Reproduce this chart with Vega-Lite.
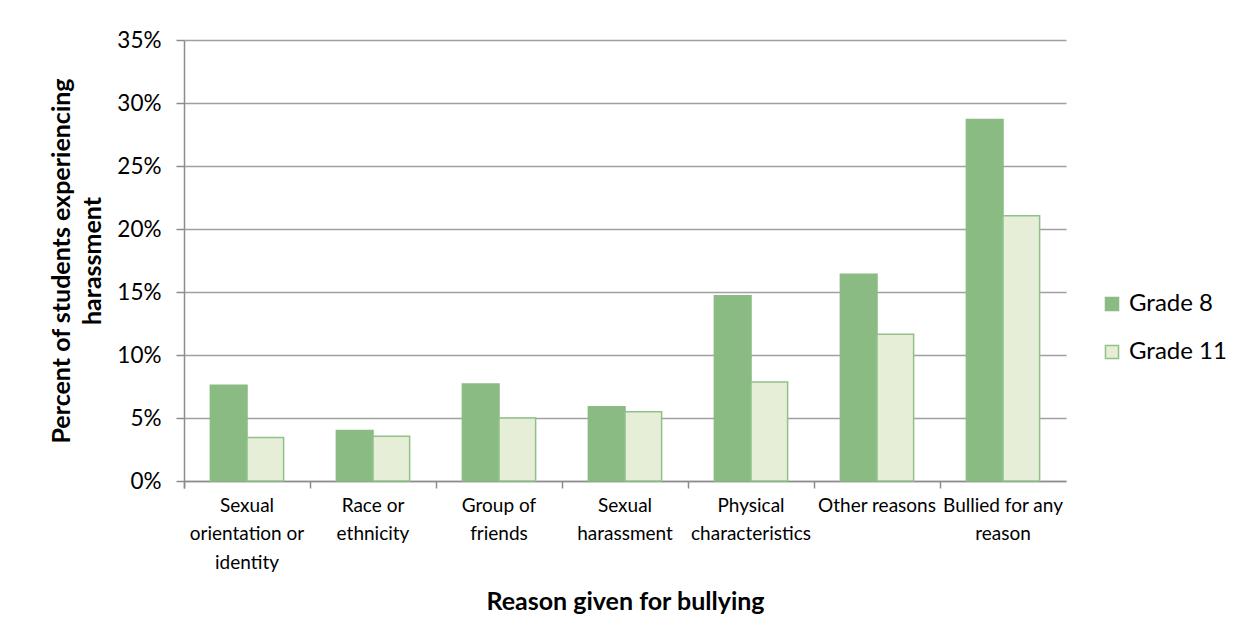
{
  "$schema": "https://vega.github.io/schema/vega-lite/v6.json",
  "width": 882,
  "height": 441,
  "autosize": {"type": "none"},
  "padding": {"left": 184, "top": 40, "right": 186, "bottom": 158},
  "background": "white",
  "config": {
    "font": "Lato",
    "view": {"stroke": null}
  },
  "data": {
    "values": [
      {"reason": "Sexual orientation or identity", "grade": "Grade 8", "pct": 7.6},
      {"reason": "Sexual orientation or identity", "grade": "Grade 11", "pct": 3.45},
      {"reason": "Race or ethnicity", "grade": "Grade 8", "pct": 4.0},
      {"reason": "Race or ethnicity", "grade": "Grade 11", "pct": 3.55},
      {"reason": "Group of friends", "grade": "Grade 8", "pct": 7.7},
      {"reason": "Group of friends", "grade": "Grade 11", "pct": 5.0},
      {"reason": "Sexual harassment", "grade": "Grade 8", "pct": 5.9},
      {"reason": "Sexual harassment", "grade": "Grade 11", "pct": 5.5},
      {"reason": "Physical characteristics", "grade": "Grade 8", "pct": 14.7},
      {"reason": "Physical characteristics", "grade": "Grade 11", "pct": 7.85},
      {"reason": "Other reasons", "grade": "Grade 8", "pct": 16.4},
      {"reason": "Other reasons", "grade": "Grade 11", "pct": 11.65},
      {"reason": "Bullied for any reason", "grade": "Grade 8", "pct": 28.7},
      {"reason": "Bullied for any reason", "grade": "Grade 11", "pct": 21.05}
    ]
  },
  "mark": {"type": "bar", "strokeWidth": 1.5},
  "encoding": {
    "x": {
      "field": "reason",
      "type": "nominal",
      "sort": null,
      "scale": {"paddingInner": 0, "paddingOuter": 0},
      "axis": {
        "title": "Reason given for bullying",
        "titleFont": "Lato",
        "titleFontSize": 25,
        "titleFontWeight": "bold",
        "titleColor": "black",
        "titlePadding": 17,
        "labelAngle": 0,
        "labelFontSize": 19,
        "labelColor": "black",
        "labelLineHeight": 28.5,
        "labelPadding": 8,
        "labelBaseline": "top",
        "labelExpr": "{'Sexual orientation or identity':['Sexual','orientation or','identity'],'Race or ethnicity':['Race or','ethnicity'],'Group of friends':['Group of','friends'],'Sexual harassment':['Sexual','harassment'],'Physical characteristics':['Physical','characteristics'],'Other reasons':['Other reasons'],'Bullied for any reason':['Bullied for any','reason']}[datum.label]",
        "bandPosition": 0,
        "tickExtra": true,
        "tickSize": 7,
        "tickColor": "#8c8c8c",
        "tickWidth": 1.5,
        "domainColor": "#8c8c8c",
        "domainWidth": 1.5,
        "labelLimit": 0
      }
    },
    "xOffset": {
      "field": "grade",
      "type": "nominal",
      "sort": ["Grade 8", "Grade 11"],
      "scale": {"paddingInner": 0, "paddingOuter": 0.72}
    },
    "y": {
      "field": "pct",
      "type": "quantitative",
      "scale": {"domain": [0, 35]},
      "axis": {
        "title": ["Percent of students experiencing", "harassment"],
        "titleFont": "Lato",
        "titleFontSize": 25,
        "titleFontWeight": "bold",
        "titleColor": "black",
        "titleLineHeight": 31,
        "titlePadding": 11,
        "values": [0, 5, 10, 15, 20, 25, 30, 35],
        "labelExpr": "datum.value + '%'",
        "labelFontSize": 22.5,
        "labelColor": "black",
        "labelPadding": 15,
        "tickSize": 8,
        "tickColor": "#8c8c8c",
        "tickWidth": 1.5,
        "domainColor": "#8c8c8c",
        "domainWidth": 1.5,
        "grid": true,
        "gridColor": "#a0a0a0",
        "gridWidth": 1.5
      }
    },
    "fill": {
      "field": "grade",
      "type": "nominal",
      "sort": ["Grade 8", "Grade 11"],
      "scale": {"domain": ["Grade 8", "Grade 11"], "range": ["#8abb83", "#e6eed8"]},
      "legend": {
        "title": null,
        "orient": "none",
        "legendX": 916,
        "legendY": 252,
        "symbolType": "square",
        "symbolSize": 170,
        "symbolStrokeWidth": 1.5,
        "labelFontSize": 24,
        "labelColor": "black",
        "labelOffset": 5,
        "rowPadding": 24
      }
    },
    "stroke": {
      "field": "grade",
      "type": "nominal",
      "sort": ["Grade 8", "Grade 11"],
      "scale": {"domain": ["Grade 8", "Grade 11"], "range": ["#8abb83", "#8fc188"]},
      "legend": null
    }
  }
}
